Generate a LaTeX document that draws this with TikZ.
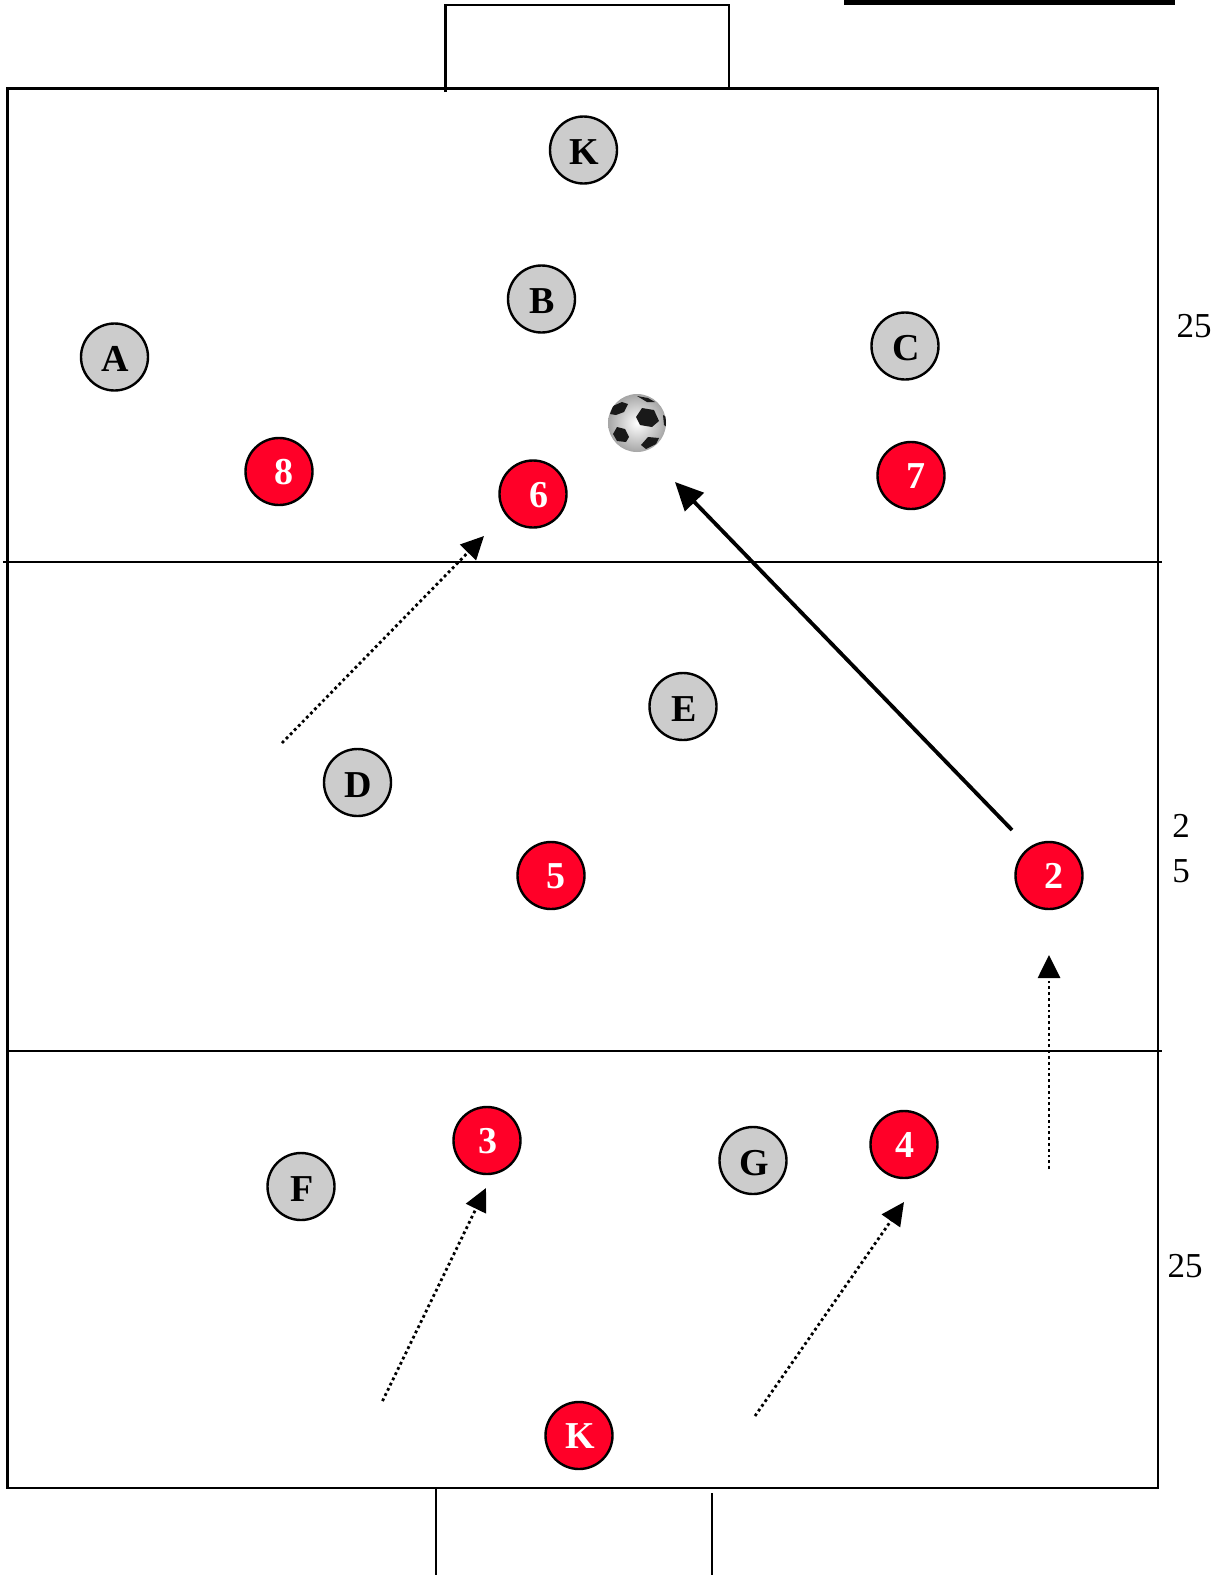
\documentclass[tikz,border=0pt]{standalone}
\usepackage{fontspec}
\setmainfont{Liberation Serif}
\usetikzlibrary{arrows.meta,shadings}
\definecolor{redp}{RGB}{255,0,40}
\definecolor{greyp}{RGB}{204,204,204}
\newcommand\plab[2]{\makebox[0pt]{\hspace*{\dimexpr#1+2pt\relax}\raisebox{-14.5pt}[0pt][0pt]{#2}}}
\newcommand\olab[2]{\makebox[0pt]{\hspace*{\dimexpr#1+2pt\relax}\raisebox{-13.2pt}[0pt][0pt]{#2}}}
\tikzset{
  player/.style={circle,draw=black,line width=2.4pt,minimum size=67pt,inner sep=0pt,font=\fontsize{38}{38}\selectfont\bfseries},
  opp/.style={player,fill=greyp,text=black},
  own/.style={player,fill=redp,text=white},
  fieldline/.style={line width=2.5pt,black},
  dimtext/.style={inner sep=0pt,font=\fontsize{35}{35}\selectfont,text=black},
  pass/.style={line width=3.8pt,-{Triangle[length=28pt,width=26pt]}},
  run/.style={line width=2.8pt,dash pattern=on 2.8pt off 3pt,-{Triangle[length=23pt,width=22pt]}},
  patch/.style={fill=black!90,draw=none}
}
\begin{document}
\begin{tikzpicture}[x=1pt,y=-1pt]
\useasboundingbox (0,0) rectangle (1228,1575);
\fill[white] (0,0) rectangle (1228,1575);
\fill[black] (844,0) rectangle (1175,5);
% field
\coordinate (fTL) at (7.5,88.5);
\coordinate (fBR) at (1158,1488);
\draw[fieldline] (fTL) rectangle (fBR);
\coordinate (l1a) at (3,562); \coordinate (l1b) at (1162,562);
\coordinate (l2a) at (7,1051); \coordinate (l2b) at (1162,1051);
\draw[fieldline] (l1a) -- (l1b);
\draw[fieldline] (l2a) -- (l2b);
% goals
\coordinate (g1) at (445.5,92); \coordinate (g2) at (445.5,5); \coordinate (g3) at (729,5); \coordinate (g4) at (729,88);
\draw[fieldline] (g1) -- (g2) -- (g3) -- (g4);
\coordinate (g5) at (436,1488); \coordinate (g6) at (436,1575);
\coordinate (g7) at (712,1493); \coordinate (g8) at (712,1575);
\draw[fieldline] (g5) -- (g6);
\draw[fieldline] (g7) -- (g8);
% players
\node[opp] (ktop) at (583.5,150) {\plab{0pt}{K}};
\node[opp] (b) at (541.5,299) {\plab{0pt}{B}};
\node[opp] (a) at (114.5,357) {\plab{0pt}{A}};
\node[opp] (c) at (905,346) {\plab{0pt}{C}};
\node[opp] (e) at (683,706.5) {\plab{0pt}{E}};
\node[opp] (d) at (357.5,782.5) {\plab{0pt}{D}};
\node[opp] (f) at (301,1186.5) {\plab{0pt}{F}};
\node[opp] (g) at (753,1160.5) {\plab{0pt}{G}};
\node[own] (p8) at (279,471.5) {\olab{8pt}{8}};
\node[own] (p6) at (533,494) {\olab{10pt}{6}};
\node[own] (p7) at (911,475.5) {\olab{8pt}{7}};
\node[own] (p5) at (551,875.5) {\olab{8pt}{5}};
\node[own] (p2) at (1049,875.5) {\olab{8pt}{2}};
\node[own] (p3) at (487,1140.5) {\olab{0pt}{3}};
\node[own] (p4) at (904,1144.5) {\olab{0pt}{4}};
\node[own] (kbot) at (579,1435.5) {\olab{0pt}{K}};
% ball
\begin{scope}[yshift=-1pt]
\shade[inner color=white,outer color=black!35] (637,422) circle (29);
\clip (637,422) circle (29);
\fill[patch] (642,407) -- (654,409) -- (659,420) -- (652,426) -- (640,424) -- (636,416) -- cycle;
\fill[patch] (622,401) -- (628,403) -- (624,411) -- (616,414) -- (610,413) -- (613,405) -- cycle;
\fill[patch] (617,426) -- (625,428) -- (629,436) -- (626,441) -- (617,440) -- (613,433) -- cycle;
\fill[patch] (648,436) -- (659,437) -- (656,443) -- (646,448) -- (641,444) -- cycle;
\fill[patch] (637,395) -- (648,397) -- (655,401) -- (647,401) -- cycle;
\fill[patch] (663,414) -- (667,416) -- (667,426) -- (664,424) -- cycle;
\end{scope}
% arrows
\coordinate (t1) at (675,482);
\coordinate (t0) at (1012,830);
\draw[pass] (t0) -- (t1);
\coordinate (r1a) at (282,743); \coordinate (r1b) at (484,536);
\coordinate (r2a) at (1049,1169); \coordinate (r2b) at (1049,955);
\coordinate (r3a) at (382.5,1401); \coordinate (r3b) at (486,1188);
\coordinate (r4a) at (755,1416); \coordinate (r4b) at (904,1202);
\draw[run] (r1a) -- (r1b);
\draw[run] (r2a) -- (r2b);
\draw[run] (r3a) -- (r3b);
\draw[run] (r4a) -- (r4b);
% dimensions
\node[dimtext] (d1) at (1194,326.5) {25};
\node[dimtext] (d2) at (1181,826) {2};
\node[dimtext] (d3) at (1181,871) {5};
\node[dimtext] (d4) at (1185,1266) {25};
\end{tikzpicture}
\end{document}
